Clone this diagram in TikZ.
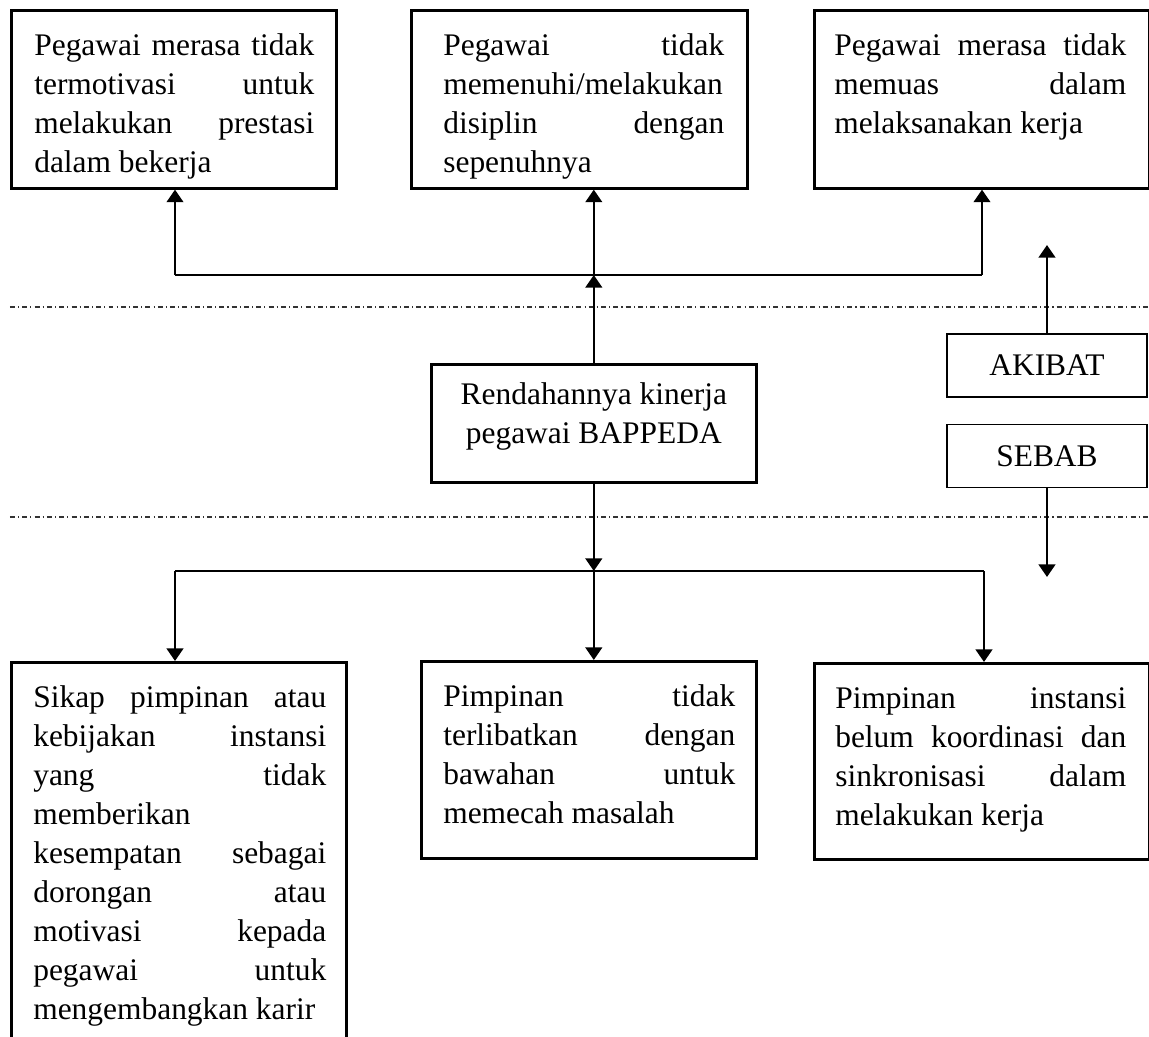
\documentclass[tikz,border=0pt]{standalone}
\usepackage{fontspec}
\setmainfont{Liberation Serif}
\usetikzlibrary{arrows.meta}
\newlength{\px}
\setlength{\px}{0.38168pt}
\tolerance=10000 \hbadness=10000 \vbadness=10000
\hyphenpenalty=10000 \exhyphenpenalty=10000
\newcommand{\isi}[5]{\parbox[c][#2\px][t]{#1\px}{\leftskip=#3\px \rightskip=#4\px
                      \rule{0pt}{45\px}#5}%
                     }
\newcommand{\tengah}[3]{\parbox[c][#2\px][t]{#1\px}{\centering
                      \rule{0pt}{40\px}#3}%
                     }
\begin{document}
\begin{tikzpicture}[x=0.38168pt,y=-0.38168pt,
  every node/.style={font=\fontsize{12pt}{39\px}\selectfont},
  kotak/.style={draw=black,line width=1pt,inner sep=0pt,anchor=north west},
  tanda/.style={draw=black,line width=0.5pt,inner sep=0pt,
                minimum width=76.3pt,minimum height=24.1pt},
  panah/.style={draw=black,line width=1pt,-{Triangle[length=4.8pt,width=6.3pt]}},
  garis/.style={draw=black,line width=0.6pt},
  batas/.style={draw=black!80,line width=0.5pt,
                dash pattern=on 1.9pt off 1.2pt on 0.4pt off 1.2pt}]
 \useasboundingbox (0,0) rectangle (1149,1037);

 % akibat
 \draw (10,9)  node[kotak] (AK1)
              {\isi{325}{178}{23}{22}{Pegawai merasa tidak\linebreak
               termotivasi untuk\linebreak melakukan prestasi\linebreak dalam bekerja}};

 \draw (410,9)  node[kotak] (AK2)
              {\isi{336}{178}{32}{23}{Pegawai tidak\linebreak
               memenuhi/melakukan\linebreak disiplin dengan\linebreak sepenuhnya}};

 \draw (813,9)  node[kotak] (AK3)
              {\isi{335}{178}{20}{23}{Pegawai merasa tidak\linebreak
               memuas dalam\linebreak melaksanakan kerja}};

 % masalah pokok
 \draw (430,363)  node[kotak] (PK)
              {\tengah{325}{118}{Rendahannya kinerja\\ pegawai BAPPEDA}};

 % sebab
 \draw (10,661)  node[kotak] (SB1)
              {\isi{335}{420}{22}{20}{Sikap pimpinan atau\linebreak
               kebijakan instansi\linebreak yang tidak\linebreak memberikan\linebreak
               kesempatan sebagai\linebreak dorongan atau\linebreak
               motivasi kepada\linebreak pegawai untuk\linebreak
               \mbox{mengembangkan karir}}};

 \draw (420,660)  node[kotak] (SB2)
              {\isi{335}{197}{22}{21}{Pimpinan tidak\linebreak
               terlibatkan dengan\linebreak bawahan untuk\linebreak memecah masalah}};

 \draw (813,662)  node[kotak] (SB3)
              {\isi{335}{196}{21}{23}{Pimpinan instansi\linebreak
               belum koordinasi dan\linebreak sinkronisasi dalam\linebreak melakukan kerja}};

 \draw (1047,365.5)  node[tanda] (AKB) {AKIBAT};
 \draw (1047,456)    node[tanda] (SBB) {SEBAB};

 \coordinate (ja) at (PK.north |- 0,275);
 \coordinate (jl) at (175,275);
 \coordinate (jr) at (982,275);
 \coordinate (jb) at (PK.south |- 0,571);
 \coordinate (kl) at (175,571);
 \coordinate (kr) at (984,571);
 \coordinate (ta) at (AKB.north |- 0,245);
 \coordinate (ts) at (SBB.south |- 0,577);

 \draw[batas] (10,307) -- (1149,307);
 \draw[batas] (10,517) -- (1149,517);

 \draw[garis] (jl) -- (jr);
 \draw[panah] (jl) -- (jl |- AK1.south);
 \draw[panah] (jr) -- (jr |- AK3.south);
 \draw[panah] (PK.north) -- (ja);
 \draw[panah] (ja) -- (ja |- AK2.south);

 \draw[garis] (kl) -- (kr);
 \draw[panah] (PK.south) -- (jb);
 \draw[panah] (kl) -- (kl |- SB1.north);
 \draw[panah] (jb) -- (jb |- SB2.north);
 \draw[panah] (kr) -- (kr |- SB3.north);

 \draw[panah] (AKB.north) -- (ta);
 \draw[panah] (SBB.south) -- (ts);

\end{tikzpicture}
\end{document}
